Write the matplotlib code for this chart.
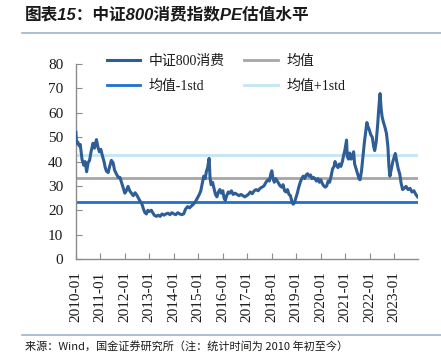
import numpy as np
import matplotlib
matplotlib.use("Agg")
import matplotlib.pyplot as plt

# PE series (decimal year, PE)
years = [2010.00, 2010.03, 2010.08, 2010.13, 2010.18, 2010.25, 2010.32, 2010.38, 2010.44, 2010.50,
         2010.56, 2010.62, 2010.70, 2010.76, 2010.84, 2010.90, 2010.96, 2011.02, 2011.08, 2011.15,
         2011.20, 2011.25, 2011.32, 2011.38, 2011.45, 2011.52, 2011.58, 2011.65, 2011.73, 2011.80,
         2011.88, 2011.94, 2012.00, 2012.06, 2012.13, 2012.20, 2012.27, 2012.34, 2012.42, 2012.50,
         2012.58, 2012.64, 2012.70, 2012.76, 2012.82, 2012.88, 2012.94, 2013.00, 2013.08, 2013.14,
         2013.20, 2013.29, 2013.36, 2013.44, 2013.52, 2013.60, 2013.68, 2013.76, 2013.84, 2013.92,
         2014.00, 2014.08, 2014.16, 2014.24, 2014.32, 2014.40, 2014.48, 2014.56, 2014.64, 2014.72,
         2014.80, 2014.88, 2014.96, 2015.04, 2015.10, 2015.16, 2015.22, 2015.28, 2015.33, 2015.38,
         2015.44, 2015.48, 2015.52, 2015.58, 2015.64, 2015.70, 2015.76, 2015.82, 2015.88, 2015.94,
         2016.00, 2016.05, 2016.10, 2016.16, 2016.22, 2016.28, 2016.35, 2016.42, 2016.50, 2016.58,
         2016.66, 2016.74, 2016.82, 2016.90, 2016.97, 2017.04, 2017.12, 2017.20, 2017.28, 2017.36,
         2017.44, 2017.52, 2017.60, 2017.68, 2017.76, 2017.84, 2017.90, 2017.96, 2018.00, 2018.05,
         2018.10, 2018.16, 2018.22, 2018.28, 2018.34, 2018.40, 2018.46, 2018.52, 2018.58, 2018.64,
         2018.70, 2018.76, 2018.82, 2018.87, 2018.92, 2018.98, 2019.04, 2019.10, 2019.16, 2019.22,
         2019.28, 2019.34, 2019.40, 2019.46, 2019.52, 2019.58, 2019.64, 2019.70, 2019.76, 2019.82,
         2019.88, 2019.94, 2020.00, 2020.06, 2020.12, 2020.18, 2020.24, 2020.30, 2020.36, 2020.42,
         2020.48, 2020.54, 2020.58, 2020.64, 2020.70, 2020.76, 2020.82, 2020.88, 2020.94, 2020.98,
         2021.03, 2021.05, 2021.08, 2021.13, 2021.18, 2021.24, 2021.30, 2021.34, 2021.38, 2021.44,
         2021.50, 2021.56, 2021.60, 2021.66, 2021.72, 2021.78, 2021.84, 2021.88, 2021.92, 2021.98,
         2022.04, 2022.10, 2022.16, 2022.20, 2022.26, 2022.32, 2022.36, 2022.40, 2022.42, 2022.46,
         2022.50, 2022.56, 2022.62, 2022.68, 2022.74, 2022.78, 2022.82, 2022.88, 2022.94, 2023.00,
         2023.04, 2023.10, 2023.16, 2023.22, 2023.28, 2023.34, 2023.40, 2023.48, 2023.56, 2023.64,
         2023.72, 2023.80, 2023.88, 2023.95]
pe = [52.0, 47.5, 48.0, 46.5, 47.0, 41.0, 38.5, 40.0, 35.8, 39.5,
      40.5, 44.0, 47.5, 45.5, 49.0, 46.0, 44.0, 45.0, 42.5, 40.0,
      37.5, 36.0, 35.5, 38.0, 40.5, 39.5, 36.5, 35.0, 33.5, 33.5,
      31.0, 29.0, 27.0, 28.0, 29.8, 28.0, 27.0, 26.0, 27.2, 26.0,
      24.5, 23.5, 22.5, 20.5, 19.0, 18.5, 20.0, 19.5, 20.0, 19.0,
      18.0, 17.5, 18.0, 17.5, 18.5, 18.0, 18.5, 18.8, 18.2, 19.0,
      18.5, 18.2, 19.0, 18.5, 18.2, 18.5, 20.5, 21.5, 21.0, 21.8,
      22.5, 23.5, 25.0, 26.5, 28.0, 31.0, 34.0, 33.0, 36.0, 37.5,
      41.3, 33.0, 30.5, 31.5, 29.0, 26.5, 25.5, 27.5, 28.5, 27.0,
      28.0, 25.0, 24.0, 26.0, 27.5, 27.0, 28.0, 26.5, 27.0, 26.5,
      26.0, 26.5, 26.0, 25.5, 26.0, 26.5, 27.5, 26.8, 28.0, 28.5,
      28.0, 29.0, 29.5, 30.0, 31.5, 32.5, 32.0, 35.0, 36.2, 33.0,
      31.5, 33.0, 32.0, 31.0, 30.0, 29.5, 30.5, 28.0, 27.5, 28.5,
      26.5, 26.0, 23.5, 22.5, 23.0, 25.0, 27.0, 29.5, 31.5, 33.0,
      34.0, 33.0, 34.5, 35.0, 34.0, 34.5, 33.0, 33.5, 33.0, 32.0,
      33.0, 31.5, 32.5, 31.0, 30.0, 29.5, 30.0, 32.0, 31.5, 34.0,
      37.0, 38.0, 40.0, 38.5, 37.5, 39.0, 38.0, 40.0, 43.0, 44.5,
      47.5, 48.8, 42.0, 41.0, 43.5, 41.0, 42.5, 44.0, 39.0, 37.0,
      35.0, 33.0, 32.5, 36.0, 42.0, 48.0, 53.0, 56.0, 54.5, 53.0,
      51.0, 50.0, 46.0, 44.5, 48.0, 55.0, 61.0, 66.0, 67.9, 62.0,
      58.5, 56.0, 54.0, 51.5, 46.0, 38.0, 34.0, 37.0, 40.0, 42.0,
      43.3, 40.0, 37.0, 35.0, 31.0, 28.5, 29.0, 29.8, 28.5, 29.0,
      27.5, 28.0, 26.5, 25.5]

mean_pe = 33.1
mean_minus_std = 23.4
mean_plus_std = 42.5

tick_years = list(range(2010, 2024))
tick_labels = ["%d-01" % y for y in tick_years]

series_names = ["中证800消费", "均值", "均值-1std", "均值+1std"]

fig = plt.figure(figsize=(4.41, 3.62), dpi=100)
ax = fig.add_axes([0.172, 0.2845, 0.776, 0.5385])

serif = ["Liberation Serif", "Noto Sans CJK SC"]

l_main, = ax.plot(years, pe, color="#2f5d95", lw=2.2, label=series_names[0], zorder=3)
l_mean = ax.axhline(mean_pe, color="#a6a6a6", lw=2.0, label=series_names[1], zorder=2)
l_lo = ax.axhline(mean_minus_std, color="#1f6fcf", lw=2.0, label=series_names[2], zorder=2)
l_hi = ax.axhline(mean_plus_std, color="#c4e5f6", lw=2.0, label=series_names[3], zorder=2)

ax.set_xlim(2010, 2023.97)
ax.set_ylim(0, 80)
ax.set_yticks(np.arange(0, 81, 10))
ax.set_xticks(tick_years)
ax.set_xticklabels(tick_labels, rotation=90)

for s in ["top", "right"]:
    ax.spines[s].set_visible(False)
for s in ["left", "bottom"]:
    ax.spines[s].set_color("#8c8c8c")
    ax.spines[s].set_linewidth(1.0)
ax.tick_params(direction="in", length=4, color="#8c8c8c", width=0.8, pad=9)
for lab in ax.get_xticklabels() + ax.get_yticklabels():
    lab.set_family(serif)
    lab.set_fontsize(11)
    lab.set_color("#1a1a1a")

leg = ax.legend(handles=[l_main, l_lo, l_mean, l_hi], ncol=2, loc="upper left",
                bbox_to_anchor=(0.243, 0.848), bbox_transform=fig.transFigure,
                frameon=False, borderpad=0, borderaxespad=0, handlelength=2.4,
                handletextpad=0.6, columnspacing=1.4, labelspacing=0.85,
                prop={"family": serif, "size": 10})
for t in leg.get_texts():
    t.set_color("#1a1a1a")

# Title and rules
fig.text(0.057, 0.961, "图表15：中证800消费指数PE估值水平", fontsize=12, fontweight="bold",
         fontstyle="italic", family=["Liberation Sans", "Noto Sans CJK SC"],
         va="center", ha="left", color="#1a1a1a")
fig.add_artist(plt.Line2D([0.05, 1.0], [0.909, 0.909], color="#9db3c8", lw=1.2,
                          transform=fig.transFigure))
fig.add_artist(plt.Line2D([0.05, 1.0], [0.0746, 0.0746], color="#9db3c8", lw=1.2,
                          transform=fig.transFigure))
fig.text(0.057, 0.042, "来源：Wind，国金证券研究所（注：统计时间为 2010 年初至今）", fontsize=8,
         family=["Noto Sans CJK SC", "DejaVu Sans"], va="center", ha="left", color="#1a1a1a")

fig.savefig("out.png", dpi=100)
